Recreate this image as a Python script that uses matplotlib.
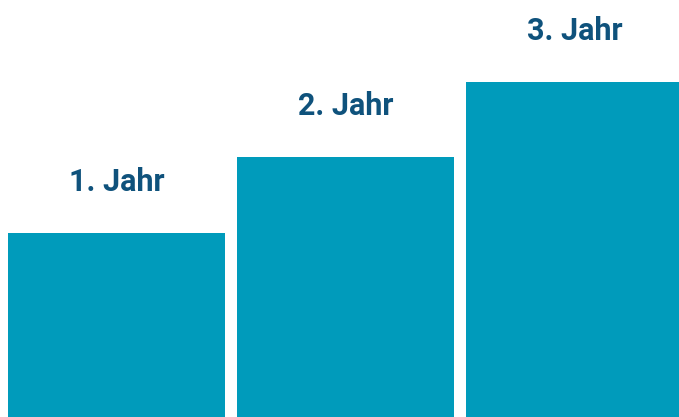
import matplotlib.pyplot as plt

# bar data
labels = ['1. Jahr', '2. Jahr', '3. Jahr']
values = [55, 77.6, 100]

bar_color = '#009bbb'
text_color = '#0f527c'

fig = plt.figure(figsize=(6.79, 4.17), dpi=100)
ax = fig.add_axes([0, 0, 1, 1])

x = list(range(len(values)))
ax.bar(x, values, width=0.948, color=bar_color)

# labels above each bar
for xi, v, lab in zip(x, values, labels):
    ax.annotate(lab, xy=(xi, v), xytext=(0, 30), textcoords='offset points',
                ha='center', va='baseline', fontsize=22, fontweight='bold',
                family=['Roboto', 'DejaVu Sans'], color=text_color)

ax.set_xlim(-0.5087, 2.456)
ax.set_ylim(0, 124.5)
ax.axis('off')

fig.savefig('out.png', dpi=100)
